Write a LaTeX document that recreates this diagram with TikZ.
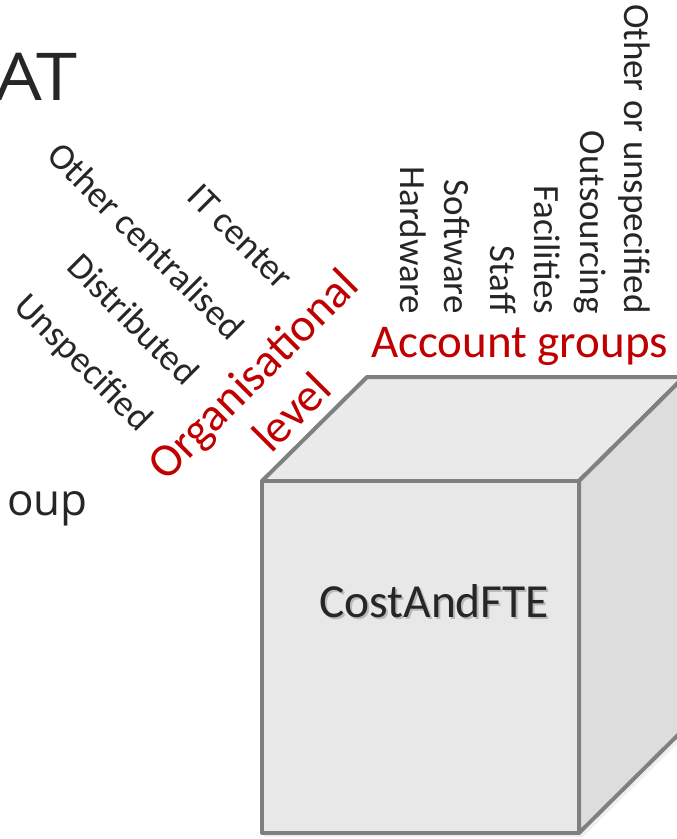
\documentclass[tikz,border=0pt]{standalone}
\usepackage{fontspec}
\setmainfont{Carlito}
\newfontfamily\titlefont{Open Sans}
\definecolor{txt}{HTML}{262626}
\definecolor{redc}{HTML}{C00000}
\definecolor{edge}{HTML}{808080}
\definecolor{frontc}{HTML}{E8E8E8}
\definecolor{topc}{HTML}{EAEAEA}
\definecolor{sidec}{HTML}{DDDDDD}
\tikzset{
  lab/.style={font=\fontsize{37}{44}\selectfont, text=txt, inner sep=0pt},
  redlab/.style={font=\fontsize{47}{56}\selectfont, text=redc, inner sep=0pt},
  big/.style={font=\titlefont\fontsize{66}{80}\selectfont, text=txt, inner sep=0pt},
  face/.style={draw=edge, line width=4pt, line join=round},
}
\begin{document}
\begin{tikzpicture}[x=1pt,y=1pt]
\useasboundingbox (0,0) rectangle (677,-839);
\clip (0,0) rectangle (677,-839);
% title fragments
\node[big, anchor=base east] (title) at (78,-100) {\scalebox{1.12}[1]{AT}};
\node[font=\titlefont\fontsize{44}{53}\selectfont, text=txt, inner sep=0pt, anchor=base east] (grp) at (88,-515) {oup};
% cube
\coordinate (ftl) at (262,-481);
\coordinate (ftr) at (579,-481);
\coordinate (fbr) at (579,-833);
\coordinate (fbl) at (262,-833);
\coordinate (btl) at (367,-377);
\coordinate (btr) at (684,-377);
\coordinate (bbr) at (684,-729);
\fill[black, opacity=0.06] (264,-484) -- (369,-380) -- (688,-380) -- (688,-733) -- (583,-837) -- (264,-837) -- cycle;
\filldraw[face, fill=topc] (ftl) -- (btl) -- (btr) -- (ftr) -- cycle;
\filldraw[face, fill=sidec] (ftr) -- (btr) -- (bbr) -- (fbr) -- cycle;
\filldraw[face, fill=frontc] (ftl) -- (ftr) -- (fbr) -- (fbl) -- cycle;
\node[font=\fontsize{47.5}{57}\selectfont, text=black!45, opacity=0.5, inner sep=0pt, anchor=base west] (cfs) at (321,-619) {CostAndFTE};
\node[font=\fontsize{47.5}{57}\selectfont, text=txt, inner sep=0pt, anchor=base west] (cf) at (319,-617) {CostAndFTE};
% account groups
\node[redlab, anchor=base west] (acc) at (371,-357) {Account groups};
\node[lab, rotate=-90, anchor=base east] (hw) at (400,-314) {Hardware};
\node[lab, rotate=-90, anchor=base east] (sw) at (444,-314) {Software};
\node[lab, rotate=-90, anchor=base east] (st) at (490,-314) {Staff};
\node[lab, rotate=-90, anchor=base east] (fa) at (534,-314) {Facilities};
\node[lab, rotate=-90, anchor=base east] (os) at (580,-314) {Outsourcing};
\node[lab, rotate=-90, anchor=base east] (ou) at (624,-314) {Other or unspecified};
% organisational level
\node[redlab, rotate=45, anchor=base] (org) at (263.9,-384.9) {Organisational};
\node[redlab, rotate=45, anchor=base] (lvl) at (302.5,-423.5) {level};
\node[lab, rotate=-45, anchor=base east] (itc) at (279.2,-292.2) {IT center};
\node[lab, rotate=-45, anchor=base east] (oc) at (229.5,-341.9) {Other centralised};
\node[lab, rotate=-45, anchor=base east] (dis) at (183.9,-387.5) {Distributed};
\node[lab, rotate=-45, anchor=base east] (uns) at (137.9,-433.5) {Unspecified};
\end{tikzpicture}
\end{document}
